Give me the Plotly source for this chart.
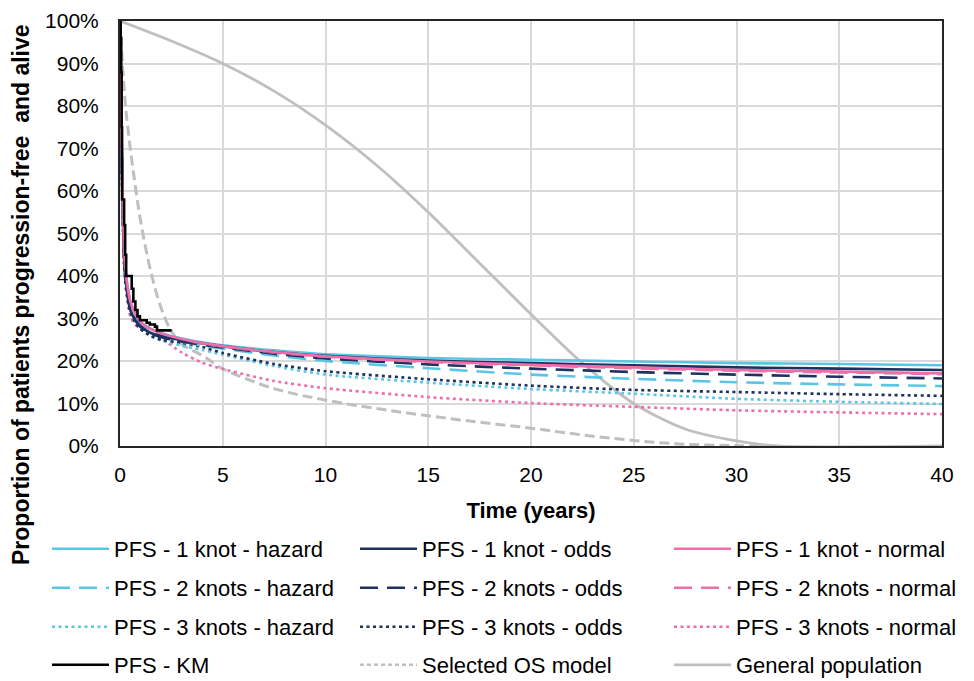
import plotly.graph_objects as go

# ---------------- data ----------------
T = [0, 0.1, 0.2, 0.3, 0.5, 0.75, 1, 1.5, 2, 3, 4, 5, 7.5, 10, 15, 20, 25, 30, 35, 40]

pfs_1k_hazard = [100, 66, 46, 40, 34, 31, 29.2, 27.6, 26.6, 25.3, 24.4, 23.7, 22.5, 21.6, 20.7, 20.3, 19.9, 19.5, 19.3, 19.0]
pfs_1k_odds   = [100, 64, 44, 38, 32, 29.6, 28.2, 26.6, 25.9, 24.9, 24.2, 23.5, 22.1, 21.2, 20.1, 19.5, 19.0, 18.5, 18.2, 17.9]
pfs_1k_normal = [100, 66, 46, 40, 34, 31, 29.2, 27.5, 26.5, 25.2, 24.2, 23.5, 22.1, 21.1, 19.9, 19.1, 18.5, 17.9, 17.5, 17.1]
pfs_2k_hazard = [100, 65, 45, 39, 33, 30.5, 28.7, 27.0, 26.0, 24.6, 23.6, 22.9, 21.3, 20.0, 18.3, 16.8, 15.8, 15.0, 14.5, 14.1]
pfs_2k_odds   = [100, 64, 44, 38, 32, 29.5, 28.0, 26.5, 25.6, 24.6, 23.8, 23.2, 21.7, 20.6, 19.2, 18.2, 17.4, 16.8, 16.3, 15.9]
pfs_2k_normal = [100, 66, 46, 40, 34, 31, 29.1, 27.4, 26.4, 25.1, 24.1, 23.4, 22.0, 21.0, 19.8, 19.0, 18.3, 17.7, 17.3, 16.9]
pfs_3k_hazard = [100, 63, 43, 37, 31.5, 29, 27.5, 25.8, 24.8, 23.6, 22.6, 21.5, 18.8, 16.8, 14.9, 13.4, 12.3, 11.1, 10.4, 9.9]
pfs_3k_odds   = [100, 63, 43, 37, 31.5, 29, 27.5, 25.9, 25.0, 24.3, 23.3, 21.9, 19.3, 17.6, 15.7, 14.2, 13.2, 12.7, 12.2, 11.8]
pfs_3k_normal = [100, 62, 42, 36, 30.5, 28.5, 27.5, 26.5, 25.3, 22.0, 19.6, 18.1, 15.3, 13.6, 11.5, 10.1, 9.2, 8.4, 7.9, 7.5]

km_t = [0, 0.03, 0.06, 0.08, 0.1, 0.2, 0.25, 0.3, 0.57, 0.65, 0.75, 0.85, 0.97, 1.3, 1.45, 1.7, 1.8, 2.45]
km_s = [100, 96, 88, 75, 58, 52, 45, 40, 37, 34, 32, 30.5, 29.6, 29.0, 28.6, 28.1, 27.2, 26.9]

os_t = [0, 0.25, 0.5, 0.75, 1, 1.5, 2, 2.5, 3, 4, 5, 7.5, 10, 12.5, 15, 17.5, 20, 22.5, 25, 27.5, 30, 31.5]
os_s = [100, 81, 70, 61, 53, 41, 32.5, 27, 24, 21.3, 18.2, 13.5, 10.8, 8.8, 7.1, 5.6, 4.2, 2.6, 1.3, 0.4, 0.1, 0]

gp_t = [0, 2.5, 5, 7.5, 10, 12.5, 15, 17.5, 20, 22.5, 25, 27.5, 30, 32, 40]
gp_s = [100, 95.3, 90, 83.5, 75.5, 66, 55, 43, 31, 19.5, 10, 4, 1.2, 0, 0]

x_ticks = [0, 5, 10, 15, 20, 25, 30, 35, 40]
y_ticks = [0, 10, 20, 30, 40, 50, 60, 70, 80, 90, 100]
y_ticklabels = [f"{v}%" for v in y_ticks]

# ---------------- styling ----------------
LB = "#5BC5E6"
NV = "#1C3260"
PK = "#EC6FAA"
GR = "#BFBFBF"
FONT = "Arial, Liberation Sans, sans-serif"
DASH2 = "18px,9px"
DOT = "3px,3.5px"

fig = go.Figure()

# background lines first
fig.add_trace(go.Scatter(x=gp_t, y=gp_s, name="General population", mode="lines",
                         line=dict(color=GR, width=2.8, shape="spline", smoothing=0.8), showlegend=False))
fig.add_trace(go.Scatter(x=os_t, y=os_s, name="Selected OS model", mode="lines",
                         line=dict(color=GR, width=3, dash="10px,5px", shape="spline"), showlegend=False))

series = [
    (pfs_3k_normal, "PFS - 3 knots - normal", PK, DOT),
    (pfs_3k_hazard, "PFS - 3 knots - hazard", LB, DOT),
    (pfs_3k_odds, "PFS - 3 knots - odds", NV, DOT),
    (pfs_2k_hazard, "PFS - 2 knots - hazard", LB, DASH2),
    (pfs_2k_odds, "PFS - 2 knots - odds", NV, DASH2),
    (pfs_2k_normal, "PFS - 2 knots - normal", PK, DASH2),
    (pfs_1k_hazard, "PFS - 1 knot - hazard", LB, "solid"),
    (pfs_1k_odds, "PFS - 1 knot - odds", NV, "solid"),
    (pfs_1k_normal, "PFS - 1 knot - normal", PK, "solid"),
]
for y, name, c, d in series:
    fig.add_trace(go.Scatter(x=T, y=y, name=name, mode="lines",
                             line=dict(color=c, dash=d, width=2.6, shape="spline", smoothing=0.6),
                             showlegend=False))
fig.add_trace(go.Scatter(x=km_t, y=km_s, name="PFS - KM", mode="lines",
                         line=dict(color="black", width=2.6, shape="hv"), showlegend=False))

# legend entries in the order of the reference legend (row by row)
legend_rows = [
    [("PFS - 1 knot - hazard", LB, "solid", 2.6), ("PFS - 1 knot - odds", NV, "solid", 2.6), ("PFS - 1 knot - normal", PK, "solid", 2.6)],
    [("PFS - 2 knots - hazard", LB, DASH2, 2.6), ("PFS - 2 knots - odds", NV, DASH2, 2.6), ("PFS - 2 knots - normal", PK, DASH2, 2.6)],
    [("PFS - 3 knots - hazard", LB, DOT, 2.6), ("PFS - 3 knots - odds", NV, DOT, 2.6), ("PFS - 3 knots - normal", PK, DOT, 2.6)],
    [("PFS - KM", "black", "solid", 2.6), ("Selected OS model", GR, "4px,3px", 2.6), ("General population", GR, "solid", 2.8)],
]

# ---------------- layout ----------------
# the page body adds an 8px offset, so the figure is 8px smaller and margins shifted
OFF = 8
W, H = 974 - OFF, 681 - OFF
L, R, TOP, BOT = 120 - OFF, 32, 21 - OFF, 235
ph = H - TOP - BOT
pw = W - L - R

def py(pagey):
    return (446 - pagey) / ph

def px(pagex):
    return (pagex - 120) / pw

row_centres = [549, 588, 627, 665]
col_lefts = [47, 355, 669]
legends = {}
k = 0
for r, row in enumerate(legend_rows):
    for c, (name, colr, d, w) in enumerate(row):
        k += 1
        lg = "legend" if k == 1 else f"legend{k}"
        fig.add_trace(go.Scatter(x=[None], y=[None], name=name, mode="lines",
                                 line=dict(color=colr, dash=d, width=w), legend=lg, showlegend=True))
        legends[lg] = dict(orientation="h", xanchor="left", yanchor="middle",
                           x=px(col_lefts[c]), y=py(row_centres[r]), itemwidth=57,
                           font=dict(family=FONT, size=22, color="#000000"),
                           bgcolor="rgba(0,0,0,0)", itemclick=False, itemdoubleclick=False)

fig.update_layout(
    width=W, height=H,
    margin=dict(l=L, r=R, t=TOP, b=BOT, pad=0, autoexpand=False),
    paper_bgcolor="white", plot_bgcolor="white",
    font=dict(family=FONT, size=21, color="#000000"),
    showlegend=True,
    **legends,
    xaxis=dict(range=[0, 40], tickvals=x_ticks, ticktext=[str(v) for v in x_ticks],
               showgrid=True, gridcolor="#D9D9D9", gridwidth=2,
               showline=True, linecolor="#262626", linewidth=2, mirror=True,
               ticks="", ticklabelstandoff=9, zeroline=False, automargin=False,
               tickfont=dict(family=FONT, size=21, color="#000000"),
               title=dict(text="<b>Time (years)</b>", font=dict(family=FONT, size=22, color="#000000"), standoff=17)),
    yaxis=dict(range=[0, 100], tickvals=y_ticks, ticktext=y_ticklabels,
               showgrid=True, gridcolor="#D9D9D9", gridwidth=2,
               showline=True, linecolor="#262626", linewidth=2, mirror=True,
               ticks="", ticklabelstandoff=15, zeroline=False, automargin=False,
               tickfont=dict(family=FONT, size=21, color="#000000")),
    annotations=[dict(text="<b>Proportion of patients progression-free  and alive</b>",
                      xref="paper", yref="paper", x=px(21), y=py(295),
                      xanchor="center", yanchor="middle", textangle=-90, showarrow=False,
                      font=dict(family=FONT, size=23, color="#000000"))],
)

fig.write_html("out.html")
